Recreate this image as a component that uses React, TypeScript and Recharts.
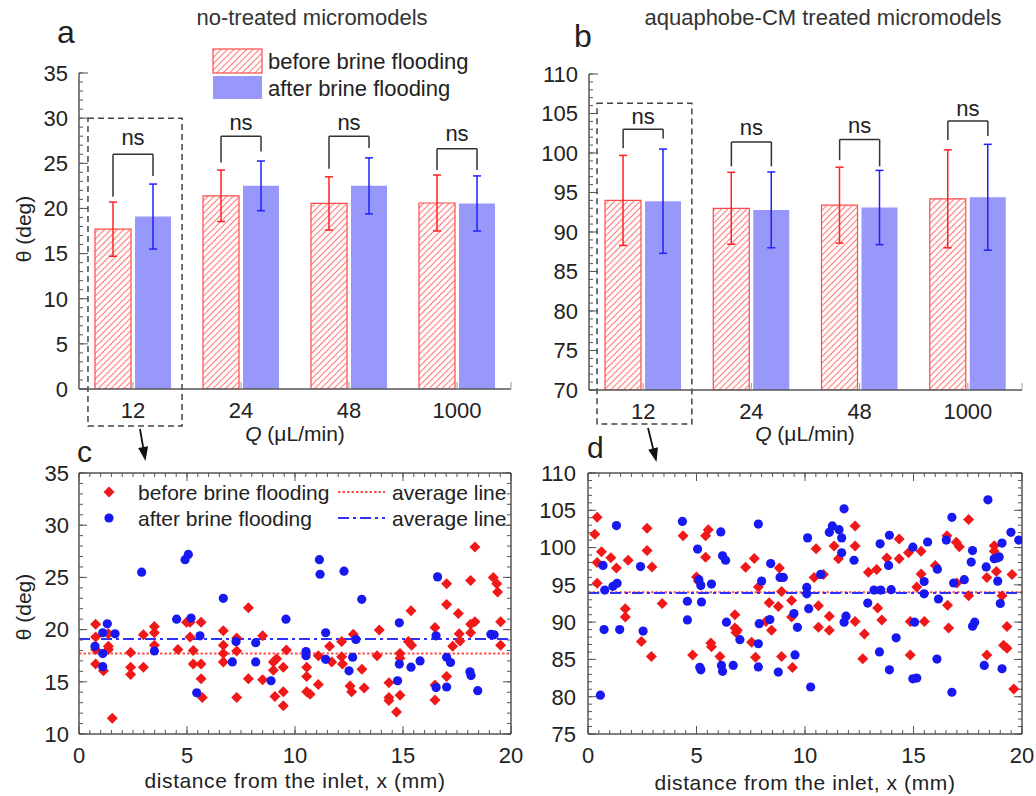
import React from 'react';
import {
  ComposedChart, ScatterChart, Bar, ErrorBar, XAxis, YAxis, Scatter,
  ReferenceLine, ReferenceArea, ReferenceDot,
} from 'recharts';

// ---------------- data ----------------
const flowRates = ['12', '24', '48', '1000'];

const beforeA = [17.7, 21.4, 20.55, 20.6];
const beforeAErr = [3.0, 2.85, 2.95, 3.1];
const afterA = [19.1, 22.5, 22.5, 20.55];
const afterAErr = [3.6, 2.75, 3.1, 3.05];

const beforeB = [94.0, 93.0, 93.4, 94.2];
const beforeBErr = [5.7, 4.55, 4.8, 6.2];
const afterB = [93.9, 92.8, 93.1, 94.4];
const afterBErr = [6.6, 4.8, 4.7, 6.7];

// significance brackets: top, left-leg bottom, right-leg bottom, "ns" label height
const bracketTopA = [26.0, 28.0, 28.0, 26.6];
const bracketLeftA = [21.3, 25.1, 24.4, 24.25];
const bracketRightA = [23.6, 26.3, 26.7, 24.25];
const nsYA = [27.9, 29.6, 29.6, 28.3];

const bracketTopB = [103.0, 101.4, 101.7, 104.05];
const bracketLeftB = [100.6, 98.3, 99.1, 101.65];
const bracketRightB = [101.85, 98.3, 98.3, 102.15];
const nsYB = [104.7, 103.3, 103.5, 105.7];

const yTicksA = [0, 5, 10, 15, 20, 25, 30, 35];
const yTicksB = [70, 75, 80, 85, 90, 95, 100, 105, 110];
const yTicksC = [10, 15, 20, 25, 30, 35];
const yTicksD = [75, 80, 85, 90, 95, 100, 105, 110];
const xTicksCD = [0, 5, 10, 15, 20];

// panel c: contact angle vs distance (Q = 12 uL/min), [x, theta]
const cBefore: [number, number][] = [
  [0.77, 20.5], [0.77, 19.3], [0.77, 18.1], [0.77, 16.7], [1.13, 16.05], [1.36, 19.6], [1.36, 18.4], [1.36, 18.1],
  [1.54, 11.5], [2.39, 17.8], [2.39, 16.4], [2.39, 15.7], [2.98, 19.5], [2.98, 16.4], [3.49, 20.3], [3.49, 19.7],
  [3.49, 18.5], [4.58, 18.1], [4.98, 20.7], [5.14, 19.3], [5.14, 20.7], [5.29, 18.0], [5.29, 16.7], [5.65, 20.7],
  [5.65, 16.7], [5.65, 15.3], [5.71, 13.5], [6.68, 19.9], [6.68, 18.5], [6.68, 17.7], [6.68, 16.9], [7.3, 19.2],
  [7.3, 17.95], [7.3, 13.5], [7.84, 22.1], [7.84, 15.3], [8.5, 19.4], [8.5, 15.2], [9.0, 16.9], [9.0, 16.1],
  [9.07, 13.6], [9.15, 17.2], [9.46, 16.4], [9.46, 14.05], [9.46, 12.7], [9.6, 18.05], [10.54, 16.4], [10.54, 15.5],
  [10.54, 14.05], [10.7, 13.8], [11.08, 17.5], [11.08, 14.75], [11.6, 18.4], [11.7, 16.9], [12.16, 18.85], [12.16, 17.4],
  [12.2, 16.7], [12.55, 14.6], [12.62, 14.05], [12.7, 19.55], [13.1, 16.2], [13.2, 14.4], [13.9, 19.95], [13.8, 17.5],
  [14.35, 14.9], [14.35, 13.5], [14.35, 13.2], [14.7, 12.1], [14.86, 17.7], [14.86, 17.25], [14.86, 13.7], [15.25, 18.85],
  [15.4, 18.5], [15.37, 21.8], [16.48, 20.2], [16.48, 14.7], [16.48, 13.25], [17.02, 24.4], [17.02, 22.4], [17.02, 15.5],
  [17.3, 18.4], [17.56, 21.55], [17.6, 19.6], [17.64, 18.9], [18.13, 24.7], [18.13, 20.5], [18.13, 19.7], [18.33, 27.9],
  [18.33, 20.75], [19.18, 25.0], [19.34, 24.4], [19.38, 23.6], [19.52, 20.75], [19.52, 18.5],
];
const cAfter: [number, number][] = [
  [0.74, 18.4], [1.1, 19.7], [1.1, 17.7], [1.1, 16.45], [1.31, 20.55], [1.67, 19.6], [2.9, 25.5], [3.49, 17.95],
  [4.52, 21.0], [4.91, 26.7], [5.06, 27.2], [5.19, 21.1], [5.6, 19.4], [5.45, 13.95], [6.68, 23.0], [7.1, 16.9],
  [7.27, 18.85], [8.18, 16.9], [8.18, 18.75], [8.89, 15.1], [9.58, 21.0], [10.51, 17.9], [10.51, 17.5], [11.13, 26.7],
  [11.16, 25.3], [11.42, 19.7], [11.42, 17.15], [12.27, 25.6], [12.5, 16.05], [12.67, 17.35], [12.82, 19.05], [13.09, 22.9],
  [14.75, 15.1], [14.83, 20.65], [14.83, 16.7], [15.37, 16.4], [15.79, 17.0], [16.53, 19.4], [16.53, 14.45], [16.6, 25.05],
  [17.02, 17.35], [17.02, 14.5], [17.2, 16.85], [18.1, 15.95], [18.15, 15.6], [18.46, 14.15], [19.07, 19.55], [19.22, 19.5],
];

// panel d
const dBefore: [number, number][] = [
  [0.42, 104.05], [0.31, 101.8], [0.42, 98.0], [0.42, 95.2], [0.62, 99.45], [1.05, 98.65], [1.31, 97.25], [1.85, 98.3],
  [1.72, 91.8], [1.72, 90.7], [2.46, 87.4], [2.72, 102.6], [2.72, 99.6], [2.95, 97.4], [2.92, 85.4], [3.42, 92.5],
  [4.38, 101.6], [4.82, 85.6], [5.0, 96.05], [5.08, 95.5], [5.42, 101.6], [5.54, 102.4], [5.42, 98.7], [5.66, 87.2],
  [5.69, 86.7], [6.08, 85.4], [6.77, 91.0], [6.77, 89.2], [6.82, 88.6], [6.88, 88.9], [7.26, 97.35], [7.54, 87.3],
  [7.72, 85.3], [7.66, 98.55], [7.85, 94.7], [8.2, 90.1], [8.35, 92.6], [8.46, 88.9], [8.77, 92.1], [8.82, 97.25],
  [8.92, 94.1], [8.92, 85.4], [9.38, 92.9], [9.38, 90.7], [9.42, 83.9], [10.42, 96.0], [10.51, 99.85], [10.62, 92.2],
  [10.62, 89.3], [10.85, 96.4], [11.12, 90.8], [11.12, 88.9], [11.34, 100.2], [11.54, 98.5], [12.31, 102.9], [12.31, 100.2],
  [12.31, 90.1], [12.66, 85.1], [12.74, 88.4], [12.92, 96.7], [13.3, 97.05], [13.35, 91.9], [13.54, 90.3], [13.77, 98.6],
  [14.34, 101.15], [14.34, 98.5], [14.77, 99.3], [14.85, 90.1], [14.85, 85.6], [15.15, 94.7], [15.35, 99.5], [15.35, 96.45],
  [15.5, 90.1], [16.0, 97.6], [16.54, 101.6], [16.57, 92.25], [16.62, 89.2], [16.97, 100.7], [17.11, 100.1], [17.0, 95.25],
  [17.54, 103.75], [17.54, 93.55], [18.38, 96.0], [18.38, 85.6], [18.72, 100.25], [18.72, 99.5], [18.82, 96.8], [19.08, 93.55],
  [19.15, 86.9], [19.31, 86.5], [19.31, 89.4], [19.54, 96.4], [19.62, 81.05],
];
const dAfter: [number, number][] = [
  [0.57, 80.2], [0.69, 97.6], [0.77, 94.3], [0.74, 89.0], [1.15, 94.8], [1.34, 95.2], [1.31, 102.95], [1.46, 89.0],
  [2.42, 97.45], [2.54, 88.8], [4.35, 103.5], [4.58, 92.8], [4.58, 90.3], [5.05, 99.8], [5.11, 95.7], [5.2, 94.9],
  [5.23, 92.7], [5.15, 83.95], [5.2, 83.6], [5.69, 95.1], [6.12, 102.1], [6.2, 98.9], [6.34, 98.3], [6.38, 90.0],
  [6.15, 84.2], [6.2, 83.4], [6.69, 84.2], [7.0, 87.65], [7.85, 103.15], [8.0, 95.5], [7.89, 89.8], [7.85, 87.1],
  [7.85, 84.0], [8.42, 97.85], [8.38, 90.35], [8.77, 83.3], [8.85, 96.0], [9.0, 96.0], [9.49, 91.15], [9.54, 85.6],
  [9.65, 89.3], [10.08, 94.65], [10.08, 93.8], [10.12, 101.3], [10.17, 91.8], [10.26, 81.3], [10.72, 96.4], [11.12, 102.05],
  [11.26, 102.9], [11.57, 102.4], [11.69, 101.3], [11.69, 99.3], [11.8, 105.2], [11.8, 90.0], [11.89, 90.8], [12.26, 98.3],
  [12.89, 92.55], [13.18, 94.3], [13.49, 94.3], [13.46, 100.5], [13.43, 86.0], [13.85, 97.6], [13.89, 101.65], [13.97, 94.35],
  [13.89, 83.6], [14.2, 87.9], [14.97, 100.05], [14.97, 82.4], [15.15, 82.5], [15.05, 90.0], [15.49, 95.45], [15.49, 93.8],
  [15.65, 100.75], [16.1, 97.1], [16.15, 93.1], [16.08, 85.05], [16.51, 101.0], [16.77, 104.05], [16.85, 95.25], [16.77, 80.6],
  [17.34, 95.7], [17.72, 99.6], [17.66, 98.05], [17.72, 89.45], [17.82, 90.0], [18.26, 84.2], [18.35, 97.4], [18.43, 106.4],
  [18.72, 98.5], [18.85, 98.6], [18.95, 98.75], [18.88, 95.5], [19.0, 92.5], [19.08, 83.75], [19.08, 100.6], [19.49, 102.05],
  [19.85, 101.0],
];

// ---------------- styles ----------------
const FONT = '"Liberation Sans", Arial, Helvetica, sans-serif';
const TXT = '#222';
const AX = '#555';
const RED = '#f01818';
const BLUE = '#1818f0';
const BAR_BLUE = '#9898fa';
const BAR_SIZE = 36;
const BAR_GAP = 4;
const THIN = 0.01; // axis thickness that keeps the axis rendered but takes no room

const range = (a: number, b: number, s: number) => {
  const out: number[] = [];
  for (let v = a; v <= b + 1e-9; v += s) out.push(Math.round(v * 100) / 100);
  return out;
};

const tickFont = { fontSize: 22, fill: TXT, fontFamily: FONT };
// tick renderer that draws no label, so only the (inward) tick line shows
const NoLabel = () => <g />;

// ---------------- bar panel ----------------
type Margin = { top: number; right: number; bottom: number; left: number };
type BarPanelProps = {
  width: number; height: number; margin: Margin;
  before: number[]; beforeErr: number[]; after: number[]; afterErr: number[];
  bTop: number[]; bLeft: number[]; bRight: number[]; nsY: number[];
  domain: [number, number]; ticks: number[]; minor: number[];
  box: { x1: number; x2: number; y1: number; y2: number };
  yTickMargin: number;
};

function BarPanel(p: BarPanelProps) {
  const data = flowRates.map((q, i) => ({
    q, before: p.before[i], beforeErr: p.beforeErr[i], after: p.after[i], afterErr: p.afterErr[i],
  }));
  const plotW = p.width - p.margin.left - p.margin.right;
  const band = plotW / flowRates.length;
  const side = (band - 2 * BAR_SIZE - BAR_GAP) / 2;
  const lf = (side + BAR_SIZE / 2) / band;
  const rf = (side + BAR_SIZE + BAR_GAP + BAR_SIZE / 2) / band;
  const segs: JSX.Element[] = [];
  flowRates.forEach((_, i) => {
    const lx = i + lf;
    const rx = i + rf;
    const common = { xAxisId: 'n', stroke: '#333', strokeWidth: 1.5, ifOverflow: 'visible' as const };
    segs.push(<ReferenceLine key={`t${i}`} {...common} segment={[{ x: lx, y: p.bTop[i] }, { x: rx, y: p.bTop[i] }]} />);
    segs.push(<ReferenceLine key={`l${i}`} {...common} segment={[{ x: lx, y: p.bTop[i] }, { x: lx, y: p.bLeft[i] }]} />);
    segs.push(<ReferenceLine key={`r${i}`} {...common} segment={[{ x: rx, y: p.bTop[i] }, { x: rx, y: p.bRight[i] }]} />);
    segs.push(
      <ReferenceDot key={`n${i}`} xAxisId="n" x={i + 0.5} y={p.nsY[i]} r={1} fill="none" stroke="none" ifOverflow="visible"
        label={{ value: 'ns', position: 'center', fontSize: 22, fill: TXT, fontFamily: FONT }} />,
    );
  });
  return (
    <ComposedChart width={p.width} height={p.height} data={data} margin={p.margin} barSize={BAR_SIZE} barGap={BAR_GAP}>
      <XAxis dataKey="q" type="category" height={THIN} axisLine={{ stroke: AX, strokeWidth: 1.5 }} tickLine={false}
        tickSize={0} tickMargin={13} tick={tickFont} interval={0} />
      <XAxis xAxisId="n" dataKey="nx" type="number" domain={[0, flowRates.length]} ticks={[0.5, 1.5, 2.5, 3.5, 4]}
        mirror height={THIN} axisLine={false} tick={NoLabel} tickSize={7} stroke="#999" interval={0} allowDataOverflow />
      <YAxis type="number" domain={p.domain} ticks={p.ticks} width={THIN} axisLine={{ stroke: AX, strokeWidth: 1.5 }}
        tickLine={false} tickSize={0} tickMargin={p.yTickMargin} tick={tickFont} interval={0} allowDataOverflow />
      <YAxis yAxisId="ymaj" type="number" domain={p.domain} ticks={p.ticks} mirror width={THIN} axisLine={false}
        tick={NoLabel} tickSize={9} stroke={AX} interval={0} allowDataOverflow />
      <YAxis yAxisId="ymin" type="number" domain={p.domain} ticks={p.minor} mirror width={THIN} axisLine={false}
        tick={NoLabel} tickSize={4} stroke={AX} interval={0} allowDataOverflow />
      <Bar dataKey="before" fill="url(#hatchRed)" stroke="#ff4a4a" strokeWidth={1.2} isAnimationActive={false}>
        <ErrorBar dataKey="beforeErr" width={4} stroke="#ff2020" strokeWidth={1.5} direction="y" />
      </Bar>
      <Bar dataKey="after" fill={BAR_BLUE} isAnimationActive={false}>
        <ErrorBar dataKey="afterErr" width={4} stroke="#2020ff" strokeWidth={1.5} direction="y" />
      </Bar>
      {segs}
      <ReferenceArea xAxisId="n" x1={p.box.x1} x2={p.box.x2} y1={p.box.y1} y2={p.box.y2} ifOverflow="visible"
        fill="none" fillOpacity={0} stroke="#444" strokeDasharray="6 4" strokeWidth={1.5} />
    </ComposedChart>
  );
}

// ---------------- scatter panel ----------------
const Diamond = (props: any) => {
  const { cx, cy } = props;
  const s = 5.5;
  return <polygon points={`${cx},${cy - s} ${cx + s},${cy} ${cx},${cy + s} ${cx - s},${cy}`} fill={RED} />;
};
const Dot = (props: any) => <circle cx={props.cx} cy={props.cy} r={4.6} fill={BLUE} />;

type ScatterPanelProps = {
  width: number; height: number; margin: Margin;
  before: [number, number][]; after: [number, number][];
  domain: [number, number]; ticks: number[];
  avgBefore: number; avgAfter: number; yTickMargin: number;
};

function ScatterPanel(p: ScatterPanelProps) {
  const bPts = p.before.map(([x, y]) => ({ x, y }));
  const aPts = p.after.map(([x, y]) => ({ x, y }));
  const xDom: [number, number] = [0, 20];
  const xMinor = range(0, 20, 0.5);
  const yMinor = range(p.domain[0], p.domain[1], 1);
  const frame = { stroke: AX, strokeWidth: 1.5 };
  const inner = (id: string, ticks: number[], size: number, line: any, orient: 'top' | 'bottom') => (
    <XAxis key={id} xAxisId={id} dataKey="x" orientation={orient} type="number" domain={xDom} ticks={ticks} mirror
      height={THIN} axisLine={line} tick={NoLabel} tickSize={size} stroke={AX} interval={0} allowDataOverflow />
  );
  const innerY = (id: string, ticks: number[], size: number, line: any, orient: 'left' | 'right') => (
    <YAxis key={id} yAxisId={id} dataKey="y" orientation={orient} type="number" domain={p.domain} ticks={ticks} mirror
      width={THIN} axisLine={line} tick={NoLabel} tickSize={size} stroke={AX} interval={0} allowDataOverflow />
  );
  return (
    <ScatterChart width={p.width} height={p.height} margin={p.margin}>
      <XAxis type="number" dataKey="x" domain={xDom} ticks={xTicksCD} height={THIN} axisLine={frame} tickLine={false}
        tickSize={0} tickMargin={13} tick={tickFont} interval={0} allowDataOverflow />
      {inner('bmaj', xTicksCD, 8, false, 'bottom')}
      {inner('bmin', xMinor, 4, false, 'bottom')}
      {inner('tmaj', xTicksCD, 8, frame, 'top')}
      {inner('tmin', xMinor, 4, false, 'top')}
      <YAxis type="number" dataKey="y" domain={p.domain} ticks={p.ticks} width={THIN} axisLine={frame} tickLine={false}
        tickSize={0} tickMargin={p.yTickMargin} tick={tickFont} interval={0} allowDataOverflow />
      {innerY('lmaj', p.ticks, 8, false, 'left')}
      {innerY('lmin', yMinor, 4, false, 'left')}
      {innerY('rmaj', p.ticks, 8, frame, 'right')}
      {innerY('rmin', yMinor, 4, false, 'right')}
      <Scatter data={bPts} fill={RED} shape={Diamond} isAnimationActive={false} />
      <Scatter data={aPts} fill={BLUE} shape={Dot} isAnimationActive={false} />
      <ReferenceLine y={p.avgBefore} stroke="#ff5050" strokeWidth={2} strokeDasharray="2.5 2" />
      <ReferenceLine y={p.avgAfter} stroke="#3030ff" strokeWidth={2} strokeDasharray="11 4 3 4" />
    </ScatterChart>
  );
}

// ---------------- overlay (titles, legends, arrows) ----------------
function Arrow({ x1, y1, x2, y2 }: { x1: number; y1: number; x2: number; y2: number }) {
  const dx = x2 - x1, dy = y2 - y1;
  const L = Math.hypot(dx, dy);
  const ux = dx / L, uy = dy / L;
  const bx = x2 - 14 * ux, by = y2 - 14 * uy;
  const px = -uy, py = ux;
  return (
    <g>
      <line x1={x1} y1={y1} x2={bx + 2 * ux} y2={by + 2 * uy} stroke="#111" strokeWidth={1.8} />
      <polygon points={`${x2},${y2} ${bx + 5 * px},${by + 5 * py} ${bx - 5 * px},${by - 5 * py}`} fill="#111" />
    </g>
  );
}

function Overlay() {
  const t = { fontFamily: FONT, fill: TXT };
  return (
    <svg width={1036} height={796} style={{ position: 'absolute', left: 0, top: 0, pointerEvents: 'none' }}>
      <defs>
        <pattern id="hatchRed" patternUnits="userSpaceOnUse" width={4.5} height={4.5} patternTransform="rotate(45)">
          <rect width={4.5} height={4.5} fill="#fff" />
          <line x1={2.25} y1={0} x2={2.25} y2={4.5} stroke="#ff7a7a" strokeWidth={1.1} />
        </pattern>
      </defs>
      {/* panel letters */}
      <text x={57} y={43} fontSize={32} {...t}>a</text>
      <text x={574} y={47} fontSize={32} {...t}>b</text>
      <text x={77} y={462} fontSize={30} {...t}>c</text>
      <text x={587} y={458} fontSize={30} {...t}>d</text>
      {/* titles */}
      <text x={312} y={25} fontSize={22} textAnchor="middle" {...t} fill="#333">no-treated micromodels</text>
      <text x={823} y={25} fontSize={22} textAnchor="middle" {...t} fill="#333">aquaphobe-CM treated micromodels</text>
      {/* axis titles */}
      <text transform="translate(31,229) rotate(-90)" fontSize={21} textAnchor="middle" {...t}>θ (deg)</text>
      <text transform="translate(31,607) rotate(-90)" fontSize={21} textAnchor="middle" {...t}>θ (deg)</text>
      <text x={295} y={441} fontSize={21} textAnchor="middle" {...t}><tspan fontStyle="italic">Q</tspan> (μL/min)</text>
      <text x={805} y={441} fontSize={21} textAnchor="middle" {...t}><tspan fontStyle="italic">Q</tspan> (μL/min)</text>
      <text x={295} y={788} fontSize={21} textAnchor="middle" letterSpacing={0.6} {...t}>distance from the inlet, x (mm)</text>
      <text x={805} y={790} fontSize={21} textAnchor="middle" letterSpacing={0.6} {...t}>distance from the inlet, x (mm)</text>
      {/* legend a */}
      <rect x={213} y={49} width={49} height={24} fill="url(#hatchRed)" stroke="#ff4a4a" strokeWidth={1.2} />
      <rect x={213} y={76} width={49} height={23} fill={BAR_BLUE} />
      <text x={268} y={61} fontSize={22} dominantBaseline="central" {...t}>before brine flooding</text>
      <text x={268} y={88} fontSize={22} dominantBaseline="central" {...t}>after brine flooding</text>
      {/* legend c */}
      <polygon points="109,486.5 114.5,492 109,497.5 103.5,492" fill={RED} />
      <circle cx={109} cy={518} r={4.6} fill={BLUE} />
      <text x={138} y={492} fontSize={21} dominantBaseline="central" {...t}>before brine flooding</text>
      <text x={138} y={518} fontSize={21} dominantBaseline="central" {...t}>after brine flooding</text>
      <line x1={338} y1={492} x2={385} y2={492} stroke="#ff5050" strokeWidth={2} strokeDasharray="2.5 2" />
      <line x1={338} y1={518} x2={385} y2={518} stroke="#3030ff" strokeWidth={2} strokeDasharray="11 4 3 4" />
      <text x={392} y={492} fontSize={21} dominantBaseline="central" {...t}>average line</text>
      <text x={392} y={518} fontSize={21} dominantBaseline="central" {...t}>average line</text>
      {/* arrows */}
      <Arrow x1={140} y1={429} x2={145.5} y2={461} />
      <Arrow x1={648} y1={428} x2={656.5} y2={462} />
    </svg>
  );
}

export default function App() {
  return (
    <div style={{ position: 'absolute', left: 0, top: 0, width: 1036, height: 796, background: '#fff', fontFamily: FONT, overflow: 'hidden' }}>
      <div style={{ position: 'absolute', left: 0, top: 0 }}>
        <BarPanel width={520} height={470} margin={{ top: 73, right: 9, bottom: 81, left: 79 }}
          before={beforeA} beforeErr={beforeAErr} after={afterA} afterErr={afterAErr}
          bTop={bracketTopA} bLeft={bracketLeftA} bRight={bracketRightA} nsY={nsYA}
          domain={[0, 35]} ticks={yTicksA} minor={range(0, 35, 1)}
          box={{ x1: 0.083, x2: 0.954, y1: -4.1, y2: 30.0 }} yTickMargin={11} />
      </div>
      <div style={{ position: 'absolute', left: 520, top: 0 }}>
        <BarPanel width={516} height={470} margin={{ top: 74, right: 14, bottom: 80, left: 69 }}
          before={beforeB} beforeErr={beforeBErr} after={afterB} afterErr={afterBErr}
          bTop={bracketTopB} bLeft={bracketLeftB} bRight={bracketRightB} nsY={nsYB}
          domain={[70, 110]} ticks={yTicksB} minor={range(70, 110, 1)}
          box={{ x1: 0.074, x2: 0.95, y1: 65.7, y2: 106.3 }} yTickMargin={11} />
      </div>
      <div style={{ position: 'absolute', left: 0, top: 440 }}>
        <ScatterPanel width={530} height={356} margin={{ top: 33, right: 19, bottom: 62, left: 79 }}
          before={cBefore} after={cAfter} domain={[10, 35]} ticks={yTicksC}
          avgBefore={beforeA[0]} avgAfter={afterA[0]} yTickMargin={10} />
      </div>
      <div style={{ position: 'absolute', left: 530, top: 440 }}>
        <ScatterPanel width={506} height={356} margin={{ top: 33, right: 14, bottom: 62, left: 58 }}
          before={dBefore} after={dAfter} domain={[75, 110]} ticks={yTicksD}
          avgBefore={beforeB[0]} avgAfter={afterB[0]} yTickMargin={12} />
      </div>
      <Overlay />
    </div>
  );
}
